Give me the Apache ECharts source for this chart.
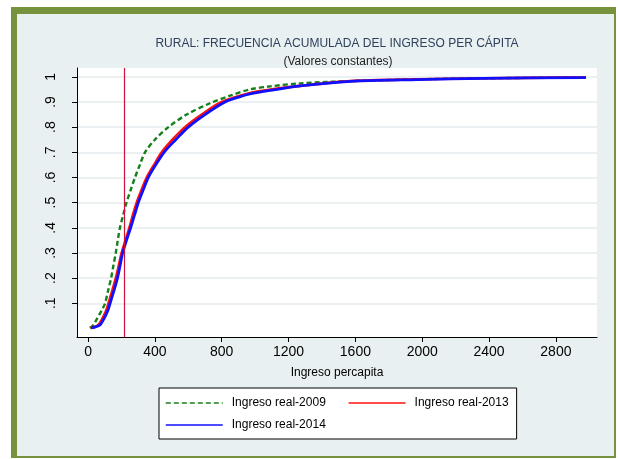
<!DOCTYPE html>
<html>
<head>
<meta charset="utf-8">
<script src="https://cdn.jsdelivr.net/npm/echarts@6/dist/echarts.min.js"></script>
<style>
html,body{margin:0;padding:0;background:#fff;}
#chart{width:618px;height:459px;}
</style>
</head>
<body>
<div id="chart"></div>
<script>
// ---- data ----
var titleText = 'RURAL: FRECUENCIA ACUMULADA DEL INGRESO PER CÁPITA';
var subtitleText = '(Valores constantes)';
var xAxisName = 'Ingreso percapita';
var seriesNames = ['Ingreso real-2009', 'Ingreso real-2013', 'Ingreso real-2014'];

var inc2009 = [10, 25, 42, 55, 72, 88, 102, 120, 138, 152, 166, 178, 191, 210, 230, 255, 281, 310, 341, 400, 481, 590, 730, 850, 970, 1090, 1270, 1570, 1970, 2370, 2980];
var cdf2009 = [0.003, 0.008, 0.025, 0.04, 0.06, 0.08, 0.1, 0.15, 0.2, 0.25, 0.3, 0.35, 0.4, 0.45, 0.5, 0.55, 0.6, 0.65, 0.7, 0.75, 0.8, 0.85, 0.895, 0.925, 0.95, 0.962, 0.974, 0.983, 0.99, 0.994, 0.998];

var inc2013 = [15, 40, 62, 78, 92, 108, 122, 145, 166, 184, 201, 224, 247, 268, 291, 320, 351, 395, 441, 505, 580, 680, 800, 970, 1100, 1270, 1570, 1970, 2370, 2980];
var cdf2013 = [0.002, 0.006, 0.014, 0.03, 0.047, 0.07, 0.1, 0.15, 0.2, 0.25, 0.3, 0.35, 0.4, 0.45, 0.5, 0.55, 0.6, 0.65, 0.7, 0.75, 0.8, 0.85, 0.9, 0.936, 0.95, 0.964, 0.983, 0.99, 0.994, 0.998];

var inc2014 = [20, 45, 72, 88, 102, 118, 132, 155, 176, 192, 207, 230, 255, 278, 301, 330, 361, 405, 455, 525, 600, 700, 820, 910, 970, 1090, 1270, 1570, 1970, 2370, 2980];
var cdf2014 = [0.002, 0.006, 0.014, 0.03, 0.047, 0.07, 0.1, 0.15, 0.2, 0.25, 0.3, 0.35, 0.4, 0.45, 0.5, 0.55, 0.6, 0.65, 0.7, 0.75, 0.8, 0.85, 0.9, 0.921, 0.932, 0.946, 0.964, 0.982, 0.989, 0.994, 0.997];

var povertyLine = [217];

var xTicks = [0, 400, 800, 1200, 1600, 2000, 2400, 2800];
var yTicks = [0.1, 0.2, 0.3, 0.4, 0.5, 0.6, 0.7, 0.8, 0.9, 1];
var yTickLabels = ['.1', '.2', '.3', '.4', '.5', '.6', '.7', '.8', '.9', '1'];

function pairs(xs, ys) {
  var out = [];
  for (var i = 0; i < xs.length; i++) out.push([xs[i], ys[i]]);
  return out;
}

var FONT = '"Liberation Sans", Arial, sans-serif';
var chart = echarts.init(document.getElementById('chart'), null, {renderer: 'canvas'});

var legendCommon = {
  orient: 'horizontal', itemGap: 22, itemWidth: 57, itemHeight: 14,
  selectedMode: false,
  lineStyle: {width: 1.5},
  itemStyle: {opacity: 0, borderWidth: 0},
  textStyle: {fontFamily: FONT, fontSize: 12, color: '#000', padding: [0, 0, 0, 4]}
};

var option = {
  animation: false,
  backgroundColor: '#ffffff',
  graphic: [
    {type: 'rect', z: -100, silent: true, shape: {x: 11, y: 7, width: 605, height: 451}, style: {fill: '#76923c'}},
    {type: 'rect', z: -99, silent: true, shape: {x: 17, y: 14, width: 597, height: 442}, style: {fill: '#e9f0f2'}}
  ],
  title: [
    {text: titleText, left: 337, top: 37, padding: 0, textAlign: 'center',
     textStyle: {fontFamily: FONT, fontSize: 12, fontWeight: 'normal', color: '#2e405c', lineHeight: 14}},
    {text: subtitleText, left: 338, top: 55, padding: 0, textAlign: 'center',
     textStyle: {fontFamily: FONT, fontSize: 12, fontWeight: 'normal', color: '#222', lineHeight: 14}}
  ],
  grid: {left: 77, right: 21, top: 68, bottom: 122, show: true, backgroundColor: '#ffffff', borderWidth: 0},
  xAxis: {
    type: 'value', min: -66, max: 3046,
    name: xAxisName, nameLocation: 'middle', nameGap: 30,
    nameTextStyle: {fontFamily: FONT, fontSize: 12, color: '#000'},
    axisLine: {show: true, onZero: false, lineStyle: {color: '#000', width: 1}},
    axisTick: {show: true, length: 5, customValues: xTicks, lineStyle: {color: '#000'}},
    axisLabel: {customValues: xTicks, margin: 8, fontFamily: FONT, fontSize: 14, color: '#000',
      formatter: function (v) { return String(v); }},
    splitLine: {show: false}
  },
  yAxis: {
    type: 'value', min: -0.034, max: 1.035,
    axisLine: {show: true, onZero: false, lineStyle: {color: '#000', width: 1}},
    axisTick: {show: true, length: 5, customValues: yTicks, lineStyle: {color: '#000'}},
    axisLabel: {customValues: yTicks, rotate: 90, margin: 19, fontFamily: FONT, fontSize: 14, color: '#000',
      formatter: function (v) {
        for (var i = 0; i < yTicks.length; i++) { if (Math.abs(yTicks[i] - v) < 1e-9) return yTickLabels[i]; }
        return '';
      }},
    splitLine: {show: true, lineStyle: {color: '#e4ebee', width: 1.5}}
  },
  legend: [
    Object.assign({}, legendCommon, {
      data: [seriesNames[0], seriesNames[1]],
      left: 159, top: 388,
      padding: [9, 8, 30, 6],
      backgroundColor: '#ffffff', borderColor: '#000', borderWidth: 1, borderRadius: 0
    }),
    Object.assign({}, legendCommon, {
      data: [seriesNames[2]],
      left: 165, top: 419, z: 6, padding: 0
    })
  ],
  series: [
    {name: seriesNames[0], type: 'line', symbol: 'none', showSymbol: false, data: pairs(inc2009, cdf2009),
     smooth: 0.3,
     lineStyle: {color: '#15801a', width: 2.4, type: [5, 3]}, itemStyle: {color: '#15801a'}, z: 2},
    {name: seriesNames[1], type: 'line', symbol: 'none', showSymbol: false, data: pairs(inc2013, cdf2013),
     smooth: 0.3,
     lineStyle: {color: '#ff1010', width: 2.6}, itemStyle: {color: '#ff1010'}, z: 3},
    {name: seriesNames[2], type: 'line', symbol: 'none', showSymbol: false, data: pairs(inc2014, cdf2014),
     smooth: 0.3,
     lineStyle: {color: '#1010ff', width: 2.8}, itemStyle: {color: '#1010ff'}, z: 4,
     markLine: {silent: true, symbol: ['none', 'none'], label: {show: false},
       lineStyle: {color: '#d0103c', width: 1.2, type: 'solid'},
       emphasis: {disabled: true},
       data: povertyLine.map(function (p) { return {xAxis: p}; })}}
  ]
};
chart.setOption(option);
</script>
</body>
</html>
